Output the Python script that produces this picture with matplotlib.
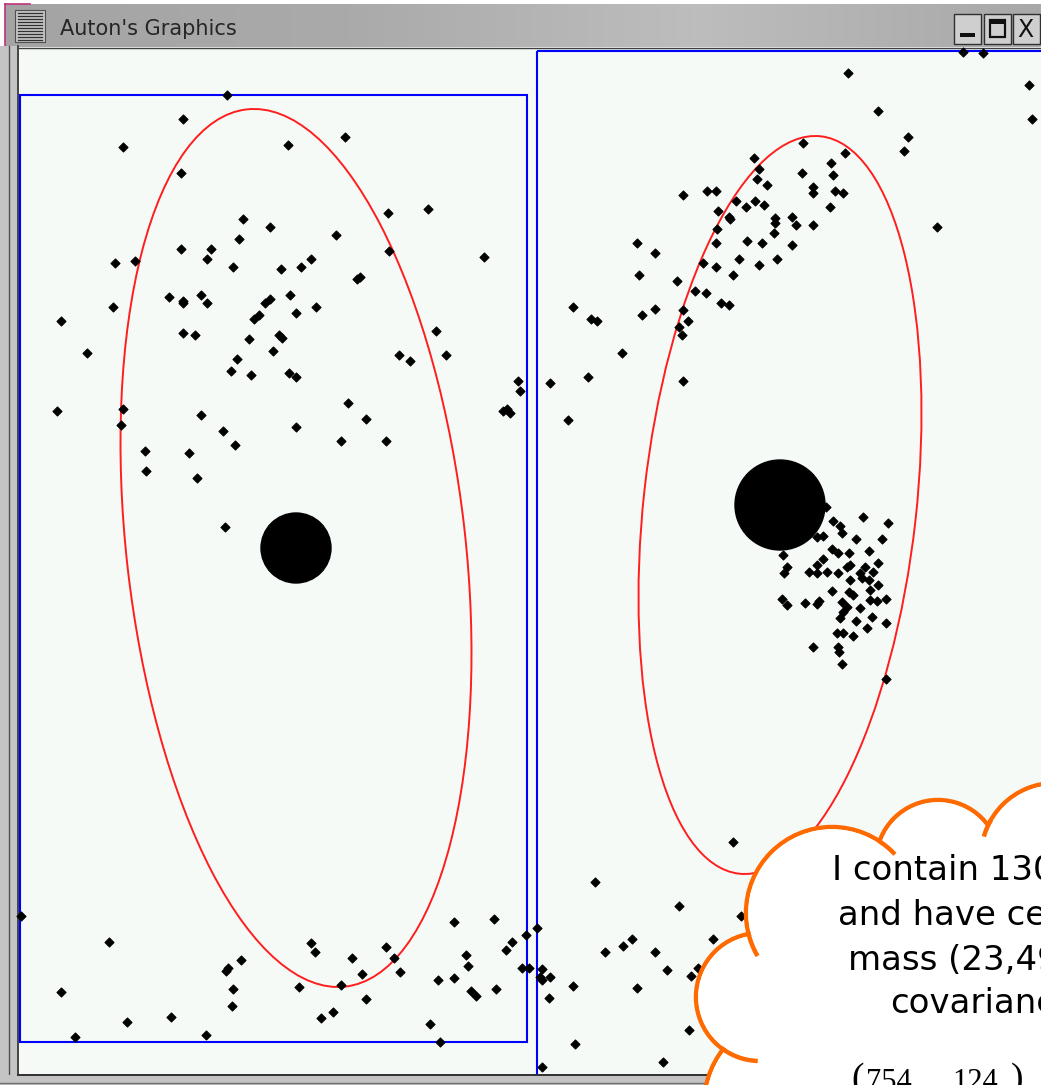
import numpy as np
import matplotlib
matplotlib.use("Agg")
import matplotlib.pyplot as plt
from matplotlib.patches import Rectangle, Ellipse, Circle

W, H = 1041, 1085

# ---- data points, screen pixels (x right, y down) ----
ul_x = [227, 183, 123, 288, 345, 181, 388, 428, 243, 270, 336, 239, 181, 211, 207,
        389, 484, 115, 135, 233, 281, 301, 311, 360, 357, 169, 183, 183, 201, 207,
        270, 265, 290, 296, 316, 113, 61, 259, 254, 183, 195, 249, 279, 282, 436,
        87, 273, 399, 410, 446, 237, 231, 251, 289, 296, 518, 520, 57, 123, 121,
        348, 201, 223, 296, 366, 341, 386, 503, 507, 510, 145, 146, 189, 197, 235, 225]
ul_y = [95, 119, 147, 145, 137, 173, 213, 209, 219, 227, 235, 239, 249, 249, 259,
        251, 257, 263, 261, 267, 269, 267, 259, 277, 279, 297, 301, 303, 295, 303,
        299, 303, 295, 313, 307, 307, 321, 315, 319, 333, 335, 339, 335, 338, 331,
        353, 351, 355, 361, 355, 359, 371, 375, 373, 377, 381, 391, 411, 409, 425,
        403, 415, 431, 427, 419, 441, 441, 411, 409, 413, 451, 471, 453, 478, 445, 527]

ll_x = [21, 109, 61, 75, 127, 171, 206, 241, 228, 226, 233, 232, 311, 315, 299,
        321, 333, 341, 352, 362, 366, 386, 394, 400, 430, 440, 438, 454, 454, 466,
        468, 471, 476, 496, 494, 506, 512, 526, 522, 529]
ll_y = [916, 942, 992, 1037, 1022, 1017, 1035, 960, 968, 971, 989, 1006, 943, 952, 987,
        1018, 1012, 985, 958, 974, 999, 947, 958, 972, 1024, 1042, 980, 978, 922, 955,
        966, 991, 996, 989, 919, 950, 942, 935, 968, 968]

lr_x = [537, 540, 733, 595, 679, 741, 713, 623, 632, 605, 655, 667, 691, 698, 542,
        542, 550, 573, 637, 549, 689, 575, 663, 542]
lr_y = [928, 977, 842, 882, 906, 916, 939, 946, 939, 952, 952, 970, 976, 968, 969,
        980, 977, 986, 988, 998, 1030, 1044, 1062, 1067]

ur_x = [963, 983, 848, 1029, 878, 1032, 908, 904, 803, 845, 754, 831, 759, 802, 833,
        757, 767, 813, 813, 835, 843, 683, 707, 716, 736, 755, 764, 746, 830, 718,
        729, 730, 775, 775, 792, 796, 813, 717, 774, 716, 747, 762, 792, 637, 655,
        739, 777, 703, 716, 759, 639, 733, 677, 695, 706, 721, 729, 573, 591, 597,
        642, 655, 683, 688, 679, 682, 622, 550, 588, 683, 568, 937]
ur_y = [52, 53, 73, 85, 111, 119, 137, 151, 143, 153, 158, 163, 169, 173, 175,
        179, 185, 187, 193, 191, 193, 195, 191, 191, 201, 201, 205, 207, 207, 211,
        217, 219, 218, 223, 217, 225, 225, 229, 233, 243, 241, 243, 245, 243, 253,
        259, 259, 263, 267, 265, 275, 275, 281, 291, 293, 303, 305, 307, 319, 321,
        315, 309, 310, 321, 327, 335, 353, 383, 377, 381, 420, 227]

cl_x = [826, 863, 888, 833, 840, 842, 823, 817, 856, 882, 783, 832, 838, 849, 869,
        823, 878, 817, 850, 847, 865, 787, 784, 809, 817, 827, 838, 860, 873, 862,
        850, 869, 878, 832, 849, 853, 870, 870, 877, 886, 782, 787, 805, 817, 819,
        842, 847, 843, 860, 840, 856, 872, 867, 886, 837, 843, 853, 813, 838, 839, 842, 886]
cl_y = [507, 517, 523, 521, 526, 533, 536, 537, 539, 539, 555, 549, 553, 553, 551,
        559, 563, 565, 565, 567, 567, 567, 573, 572, 573, 572, 573, 573, 572, 578,
        580, 580, 585, 591, 592, 595, 590, 600, 601, 599, 599, 605, 603, 604, 601,
        602, 607, 612, 608, 618, 621, 617, 628, 623, 633, 633, 636, 647, 647, 652, 664, 679]

# kd-tree node boxes
box_x0 = [20, 537]
box_y0 = [95, 51]
box_x1 = [527, 1120]
box_y1 = [1042, 1120]

# gaussian components: centre of mass + covariance (pixels)
mu_x = [296, 780]
mu_y = [548, 505]
covs = [[[30800, 18438], [18438, 192721]],
        [[20022, -13000], [-13000, 136161]]]
mass_r = [35, 45]

cloud_lines = ["I contain 130 points", "and have centre of", "mass (23,49) and", "covariance"]
matrix_row = ["754", "124"]


fig = plt.figure(figsize=(W / 100, H / 100), dpi=100)
fig.patch.set_facecolor("white")
ax = fig.add_axes([0, 0, 1, 1])
ax.set_xlim(0, W)
ax.set_ylim(H, 0)
ax.axis("off")

# ---- window chrome ----
grad = np.linspace(0, 1, 256).reshape(1, -1)
tb_cmap = matplotlib.colors.LinearSegmentedColormap.from_list(
    "tb", ["#a4a4a4", "#aaaaaa", "#bdbdbd", "#a8a8a8"])
ax.imshow(grad, extent=(5, W, 47, 4), cmap=tb_cmap, aspect="auto", zorder=0)
ax.plot([5, 5], [4, 48], color="#c0307a", lw=1.2, zorder=1)
ax.plot([5, 30], [4, 4], color="#c0307a", lw=1.2, zorder=1)
ax.add_patch(Rectangle((15, 10), 30, 32, fc="#c4c4c4", ec="#505050", lw=0.8, zorder=1))
for yy in np.arange(13, 41, 3):
    ax.plot([18, 42], [yy, yy], color="#303030", lw=0.9, zorder=2)
ax.text(60, 35, "Auton's Graphics", fontsize=15, color="#262626", va="baseline", zorder=2)
for bx in (954, 984, 1013):
    ax.add_patch(Rectangle((bx, 14), 27, 30, fc="#cfcfcf", ec="#303030", lw=1.0, zorder=1))
ax.add_patch(Rectangle((960, 33), 15, 4, fc="#101010", ec="none", zorder=2))
ax.add_patch(Rectangle((990, 20), 15, 17, fc="none", ec="#101010", lw=1.6, zorder=2))
ax.add_patch(Rectangle((990, 20), 15, 4, fc="#101010", ec="none", zorder=2))
ax.text(1017, 30, "X", fontsize=17, color="#101010", va="center", zorder=2)

ax.add_patch(Rectangle((0, 46), 19, H - 46, fc="#c4c4c4", ec="none", zorder=1))
ax.plot([9, 9], [46, H], color="#505050", lw=1.0, zorder=2)
ax.plot([18, 18], [46, H], color="#303030", lw=1.2, zorder=2)
ax.add_patch(Rectangle((19, 48), W - 19, 1075 - 48, fc="#f5faf6", ec="none", zorder=1))
ax.plot([18, W], [48, 48], color="#404040", lw=1.0, zorder=2)

# ---- kd boxes ----
for x0, y0, x1, y1 in zip(box_x0, box_y0, box_x1, box_y1):
    ax.add_patch(Rectangle((x0, y0), x1 - x0, y1 - y0, fc="none", ec="#0000ff",
                           lw=1.5, zorder=3))

# ---- gaussian ellipses ----
for cx, cy, cv in zip(mu_x, mu_y, covs):
    vals, vecs = np.linalg.eigh(np.array(cv, float))
    i = np.argmax(vals)
    ang = np.degrees(np.arctan2(vecs[1, i], vecs[0, i]))
    ax.add_patch(Ellipse((cx, cy), 2 * np.sqrt(vals[i]), 2 * np.sqrt(vals[1 - i]),
                         angle=ang, fc="none", ec="#ff1e1e", lw=1.4, zorder=4))

# ---- points ----
px = ul_x + ll_x + lr_x + ur_x + cl_x
py = ul_y + ll_y + lr_y + ur_y + cl_y
ax.scatter(px, py, marker="D", s=21, c="black", edgecolors="black", lw=0.8, zorder=5)

for cx, cy, r in zip(mu_x, mu_y, mass_r):
    ax.add_patch(Circle((cx, cy), r, fc="black", ec="black", zorder=6))

# bottom frame
ax.add_patch(Rectangle((0, 1075), W, 10, fc="#c4c4c4", ec="none", zorder=7))
ax.plot([18, W], [1075, 1075], color="#303030", lw=1.4, zorder=7)
ax.plot([0, W], [1083, 1083], color="#707070", lw=1.0, zorder=7)

# ---- thought cloud ----
bumps = [(938, 862, 62), (1055, 857, 74), (832, 913, 86), (760, 997, 64), (795, 1105, 91)]
orange = "#ff6a00"
for cx, cy, r in bumps:
    ax.add_patch(Circle((cx, cy), r, fc="white", ec=orange, lw=3.2, zorder=8))
for cx, cy, r in bumps:
    ax.add_patch(Circle((cx, cy), r - 2.2, fc="white", ec="none", zorder=9))
ax.add_patch(Circle((960, 990), 150, fc="white", ec="none", zorder=9))
hooks = [(2, -57, -43), (1, -164, -150), (2, 150, 167), (3, 92, 127)]
for k, t0, t1 in hooks:
    cx, cy, r = bumps[k]
    t = np.radians(np.linspace(t0, t1, 30))
    ax.plot(cx + r * np.cos(t), cy + r * np.sin(t), color=orange, lw=3.2,
            solid_capstyle="butt", zorder=10)

for (lx, by), s in zip([(832, 880), (838, 925), (848, 970), (890, 1013)], cloud_lines):
    ax.text(lx, by, s, fontsize=24.5, color="black", va="baseline", ha="left", zorder=11)
ax.text(851, 1062, "(", fontsize=27, family="Liberation Serif", va="top", zorder=11)
ax.text(866, 1068, matrix_row[0], fontsize=22, family="Liberation Serif", va="top", zorder=11)
ax.text(952, 1068, matrix_row[1], fontsize=22, family="Liberation Serif", va="top", zorder=11)
ax.text(1011, 1062, ")", fontsize=27, family="Liberation Serif", va="top", zorder=11)

fig.savefig("out.png", dpi=100)
